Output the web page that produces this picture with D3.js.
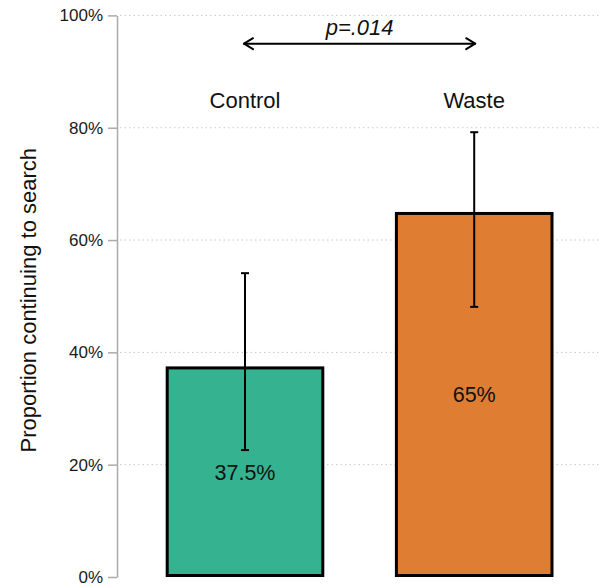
<!DOCTYPE html>
<html>
<head>
<meta charset="utf-8">
<script src="https://cdn.jsdelivr.net/npm/d3@7"></script>
<style>
  html, body { margin: 0; padding: 0; background: #fff; }
  svg { display: block; font-family: "Liberation Sans", Arial, sans-serif; }
</style>
</head>
<body>
<svg id="chart" width="600" height="587"></svg>
<script>
// Groups and observed proportions (percent)
const categories = ["Control", "Waste"];
const values = [37.5, 65];
const valueLabels = ["37.5%", "65%"];
// 95% interval bounds (percent)
const ciLow = [22.6, 48.1];
const ciHigh = [54.1, 79.2];
const colors = ["#35b28f", "#df7e32"];
const yTicks = [0, 20, 40, 60, 80, 100];
const pLabel = "p=.014";
const yTitle = "Proportion continuing to search";

const svg = d3.select("#chart");

const y = d3.scaleLinear().domain([0, 100]).range([577, 15.4]);
const x = d3.scaleBand().domain(categories)
  .range([130.4, 588.8]).paddingInner(0.308).paddingOuter(0.154);

const axisX = 117;

// dotted horizontal gridlines
svg.append("g").selectAll("line").data(yTicks.filter(d => d > 0)).join("line")
  .attr("x1", axisX + 3).attr("x2", 600)
  .attr("y1", d => y(d)).attr("y2", d => y(d))
  .attr("stroke", "#c8c8c8").attr("stroke-width", 1)
  .attr("stroke-dasharray", "1.5,3");

// y axis
const yAxis = d3.axisLeft(y).tickValues(yTicks).tickFormat(d => d + "%")
  .tickSize(9).tickSizeOuter(0).tickPadding(5);
const gAxis = svg.append("g").attr("transform", `translate(${axisX},0)`).call(yAxis);
gAxis.select(".domain").attr("stroke", "#aaa").attr("stroke-width", 1.5);
gAxis.selectAll(".tick line").attr("stroke", "#aaa").attr("stroke-width", 1.5);
gAxis.selectAll(".tick text").attr("font-size", 17).attr("fill", "#1a1a1a")
  .attr("font-family", "'Liberation Sans', Arial, sans-serif");

// bars, stroke drawn inside the value edge
const sw = 3;
svg.append("g").selectAll("rect").data(categories).join("rect")
  .attr("x", d => x(d) + sw / 2)
  .attr("y", (d, i) => y(values[i]) + sw / 2)
  .attr("width", x.bandwidth() - sw)
  .attr("height", (d, i) => y(0) - y(values[i]) - sw)
  .attr("fill", (d, i) => colors[i])
  .attr("stroke", "#000").attr("stroke-width", sw);

// error bars
const eb = svg.append("g").attr("stroke", "#000");
categories.forEach((c, i) => {
  const cx = x(c) + x.bandwidth() / 2;
  eb.append("line").attr("x1", cx).attr("x2", cx)
    .attr("y1", y(ciLow[i])).attr("y2", y(ciHigh[i])).attr("stroke-width", 2);
  [ciLow[i], ciHigh[i]].forEach(v => {
    eb.append("line").attr("x1", cx - 4).attr("x2", cx + 4)
      .attr("y1", y(v)).attr("y2", y(v)).attr("stroke-width", 2);
  });
});

// value labels in the middle of each bar
svg.append("g").selectAll("text").data(categories).join("text")
  .attr("x", d => x(d) + x.bandwidth() / 2)
  .attr("y", (d, i) => (y(values[i]) + y(0)) / 2 + 8)
  .attr("text-anchor", "middle").attr("font-size", 21.5).attr("fill", "#111")
  .text((d, i) => valueLabels[i]);

// group names above bars
svg.append("g").selectAll("text").data(categories).join("text")
  .attr("x", d => x(d) + x.bandwidth() / 2)
  .attr("y", 108)
  .attr("text-anchor", "middle").attr("font-size", 22).attr("fill", "#111")
  .text(d => d);

// comparison arrow with p-value
const c0 = x(categories[0]) + x.bandwidth() / 2;
const c1 = x(categories[1]) + x.bandwidth() / 2;
const ay = 43.7;
const arrow = svg.append("g").attr("stroke", "#000").attr("stroke-width", 2)
  .attr("fill", "none").attr("stroke-linecap", "round").attr("stroke-linejoin", "round");
arrow.append("line").attr("x1", c0 - 1).attr("x2", c1 + 1).attr("y1", ay).attr("y2", ay);
arrow.append("path").attr("d", `M${c0 + 8},${ay - 5.5} L${c0 - 1},${ay} L${c0 + 8},${ay + 5.5}`);
arrow.append("path").attr("d", `M${c1 - 8},${ay - 5.5} L${c1 + 1},${ay} L${c1 - 8},${ay + 5.5}`);
svg.append("text").attr("x", (c0 + c1) / 2).attr("y", 35)
  .attr("text-anchor", "middle").attr("font-size", 22).attr("font-style", "italic")
  .attr("fill", "#111").text(pLabel);

// y axis title
svg.append("text")
  .attr("transform", `translate(36,${(y(0) + y(100)) / 2 + 4}) rotate(-90)`)
  .attr("text-anchor", "middle").attr("font-size", 22).attr("fill", "#111")
  .text(yTitle);
</script>
</body>
</html>
